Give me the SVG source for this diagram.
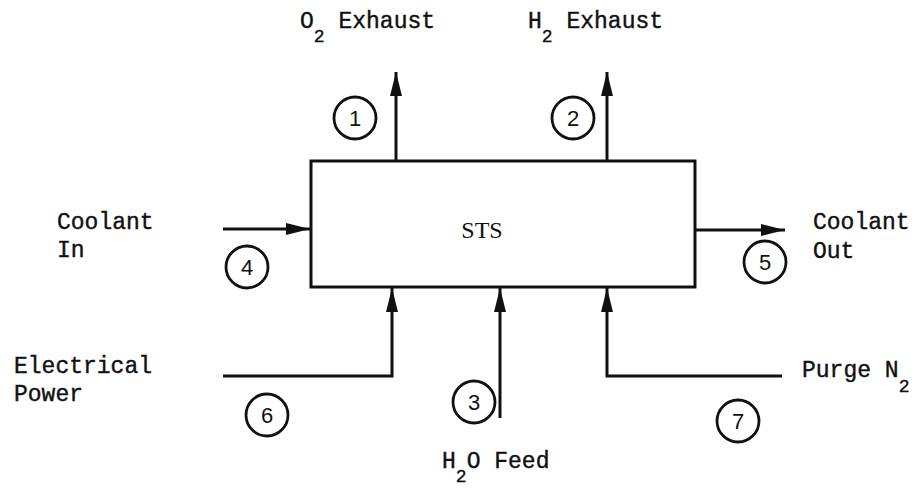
<svg xmlns="http://www.w3.org/2000/svg" width="915" height="489" viewBox="0 0 915 489">
<style>
.ln{fill:none;stroke:#111;stroke-width:3;stroke-linejoin:miter}
.c{fill:none;stroke:#111;stroke-width:2.8}
.t{font-family:"Liberation Mono",monospace;font-size:23px;fill:#111;stroke:#111;stroke-width:0.4}
.s{font-size:18px}
.n{font-family:"Liberation Sans",Arial,sans-serif;font-size:22px;fill:#111;text-anchor:middle}
.sts{font-family:"Liberation Serif",serif;font-size:24px;fill:#111;text-anchor:middle}
</style>
<defs>
<marker id="ah" viewBox="0 0 24 12" refX="24" refY="6" markerWidth="24" markerHeight="12" markerUnits="userSpaceOnUse" orient="auto">
<path d="M0,0 L24,6 L0,12 Z" fill="#111"/>
</marker>
</defs>
<g id="sts">
<rect class="ln" x="311" y="161" width="384" height="126"/>
<text class="sts" x="482" y="238">STS</text>
</g>
<g id="connectors">
<path class="ln" d="M396,161 V72" marker-end="url(#ah)"/>
<path class="ln" d="M607,161 V72" marker-end="url(#ah)"/>
<path class="ln" d="M223,229 H310" marker-end="url(#ah)"/>
<path class="ln" d="M695,230 H785" marker-end="url(#ah)"/>
<path class="ln" d="M223,376 H392 V288" marker-end="url(#ah)"/>
<path class="ln" d="M500,418 V288" marker-end="url(#ah)"/>
<path class="ln" d="M782,376 H607 V288" marker-end="url(#ah)"/>
</g>
<g id="n1"><circle class="c" cx="355" cy="118" r="21"/><text class="n" x="355" y="126">1</text></g>
<g id="n2"><circle class="c" cx="573" cy="118" r="21"/><text class="n" x="573" y="126">2</text></g>
<g id="n3"><circle class="c" cx="474" cy="402" r="21"/><text class="n" x="474" y="410">3</text></g>
<g id="n4"><circle class="c" cx="247" cy="267" r="21"/><text class="n" x="247" y="275">4</text></g>
<g id="n5"><circle class="c" cx="765" cy="262" r="21"/><text class="n" x="765" y="270">5</text></g>
<g id="n6"><circle class="c" cx="267" cy="415" r="21"/><text class="n" x="267" y="423">6</text></g>
<g id="n7"><circle class="c" cx="738" cy="421" r="21"/><text class="n" x="738" y="429">7</text></g>
<g id="o2"><text class="t" x="300" y="28">O<tspan class="s" dy="14">2</tspan><tspan dy="-14"> Exhaust</tspan></text></g>
<g id="h2"><text class="t" x="528" y="28">H<tspan class="s" dy="14">2</tspan><tspan dy="-14"> Exhaust</tspan></text></g>
<g id="coolin"><text class="t" x="57" y="229">Coolant</text><text class="t" x="57" y="257">In</text></g>
<g id="coolout"><text class="t" x="813" y="229">Coolant</text><text class="t" x="813" y="258">Out</text></g>
<g id="elec"><text class="t" x="14" y="373">Electrical</text><text class="t" x="14" y="401">Power</text></g>
<g id="purge"><text class="t" x="802" y="377">Purge N<tspan class="s" dy="15">2</tspan></text></g>
<g id="h2o"><text class="t" x="442" y="468">H<tspan class="s" dy="14">2</tspan><tspan dy="-14">O Feed</tspan></text></g>
</svg>
